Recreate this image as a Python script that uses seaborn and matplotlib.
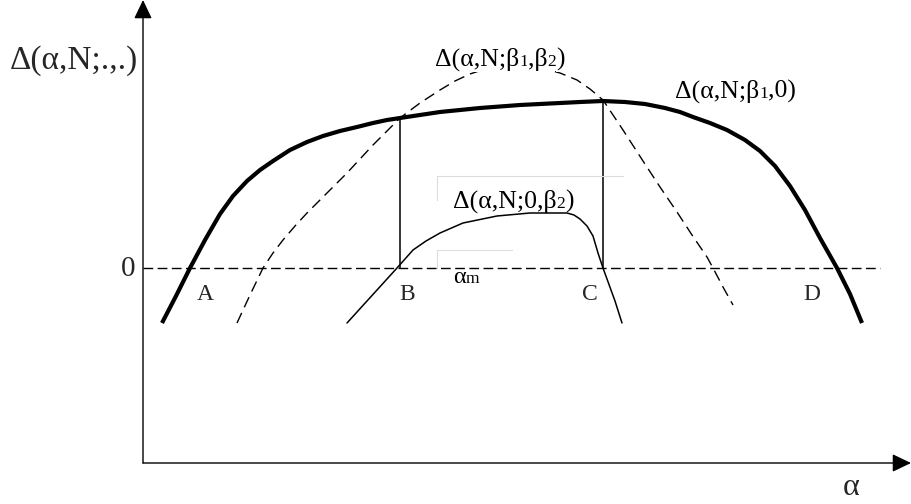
import matplotlib
matplotlib.use("Agg")
import matplotlib.pyplot as plt
import matplotlib.transforms as mtransforms
import seaborn as sns
import pandas as pd

# Schematic curves: alpha (horizontal) vs Delta(alpha, N; ., .) (vertical)
alpha_b1_0 = [19, 33, 47, 62, 77, 90, 104, 117, 130, 147, 164, 180, 197, 214,
              230, 244, 257, 277, 297, 317, 337, 377, 417, 437, 460, 482,
              502, 522, 537, 550, 567, 584, 602, 617, 632, 647, 662, 677,
              694, 707, 719]
delta_b1_0 = [-55, -28, 0, 28, 54, 72, 87, 98, 107, 118, 126, 132, 137, 141,
              145, 148, 150, 153, 156, 158, 160, 163, 165, 166, 167, 166,
              164, 160, 156, 151, 145, 138, 128, 117, 102, 82, 58, 30,
              0, -26, -55]

alpha_b1_b2 = [94, 107, 120, 130, 140, 152, 164, 184, 204, 217, 230, 244,
               257, 277, 297, 312, 327, 342, 357, 372, 387, 402, 417, 434,
               447, 460, 480, 500, 517, 534, 549, 564, 570, 580, 590]
delta_b1_b2 = [-55, -27, 0, 15, 28, 42, 55, 75, 95, 109, 123, 137,
               150, 165, 178, 187, 194, 199, 202, 203, 202, 199, 195, 188,
               179, 168, 138, 107, 81, 56, 33, 11, 0, -19, -37]

alpha_0_b2 = [204, 254, 270, 283, 297, 320, 354, 387, 424, 431, 437, 444,
              450, 455, 460, 472, 479]
delta_0_b2 = [-55, 0, 18, 27, 35, 45, 52, 55, 55, 53, 49, 42,
              32, 15, 0, -33, -55]

# Roots B and C of the Delta(.;0,b2) curve and the matching heights on the thick curve
alpha_roots = [257, 460]
delta_roots_top = [150, 167]

point_labels = ["A", "B", "C", "D"]
point_alpha = [62, 264, 447, 669]

SERIF = ["Liberation Serif", "DejaVu Serif"]

sns.set_theme(style="white")
plt.rcParams["font.family"] = SERIF

fig = plt.figure(figsize=(9.11, 5.04), dpi=100)
ax = fig.add_axes([0, 0, 1, 1])
ax.set_xlim(-143, 768)
ax.set_ylim(-236, 268)
ax.axis("off")

curves = pd.concat([
    pd.DataFrame({"alpha": alpha_b1_0, "delta": delta_b1_0, "curve": "b1_0"}),
    pd.DataFrame({"alpha": alpha_b1_b2, "delta": delta_b1_b2, "curve": "b1_b2"}),
    pd.DataFrame({"alpha": alpha_0_b2, "delta": delta_0_b2, "curve": "0_b2"}),
])

sns.lineplot(data=curves[curves.curve == "b1_0"], x="alpha", y="delta",
             sort=False, estimator=None, color="black", lw=3.0, ax=ax,
             solid_capstyle="butt", solid_joinstyle="round")
sns.lineplot(data=curves[curves.curve == "b1_b2"], x="alpha", y="delta",
             sort=False, estimator=None, color="black", lw=1.0, ax=ax,
             linestyle=(0, (8, 4.5)))
sns.lineplot(data=curves[curves.curve == "0_b2"], x="alpha", y="delta",
             sort=False, estimator=None, color="black", lw=1.1, ax=ax,
             solid_joinstyle="round")

# zero level
ax.hlines(0, 0, 737, colors="black", lw=1.0, linestyles=[(0, (7, 3.2))])

# vertical segments at B and C
ax.vlines(alpha_roots, 0, delta_roots_top, colors="black", lw=1.1)

# faint text-frame edges
ax.plot([294, 480], [92, 92], color="#dcdcdc", lw=0.8)
ax.plot([294, 294], [92, 68], color="#dcdcdc", lw=0.8)
ax.plot([294, 369], [18, 18], color="#dcdcdc", lw=0.8)
ax.plot([294, 294], [18, 0], color="#dcdcdc", lw=0.8)

# axes with arrow heads
arrow = dict(arrowstyle="-|>,head_length=1.15,head_width=0.55",
             mutation_scale=10, lw=1.0, color="black", shrinkA=0, shrinkB=0)
ax.annotate("", xy=(0, 268), xytext=(0, -195), arrowprops=arrow)
ax.annotate("", xy=(768, -195), xytext=(0, -195), arrowprops=arrow)


def rich_text(x, y, parts, bg=None):
    """Place a run of text pieces of varying size side by side on one baseline."""
    renderer = fig.canvas.get_renderer()
    off = 0.0
    for s, size in parts:
        kw = {}
        if bg:
            kw["bbox"] = dict(facecolor=bg, edgecolor="none", pad=0.5)
        t = ax.text(x, y, s, fontsize=size, family=SERIF, va="baseline",
                    ha="left", color="black", **kw)
        t.set_transform(mtransforms.offset_copy(ax.transData, fig=fig,
                                                x=off, y=0, units="dots"))
        off += t.get_window_extent(renderer).width


MAIN = 18.5
SUB = 12.5

ax.text(-5, 199, "Δ(α,N;.,.)", fontsize=24, ha="right", va="baseline")
ax.text(-15, -8, "0", fontsize=21, ha="center", va="baseline")
rich_text(292, 202, [("Δ(α,N;β", MAIN), ("1", SUB), (",β", MAIN), ("2", SUB),
                     (")", MAIN)], bg="white")
rich_text(532, 170, [("Δ(α,N;β", MAIN), ("1", SUB), (",0)", MAIN)])
rich_text(310, 60, [("Δ(α,N;0,β", MAIN), ("2", SUB), (")", MAIN)])
rich_text(310, -15, [("α", 17.5), ("m", 12.5)])
ax.text(708, -227, "α", fontsize=23, ha="center", va="baseline")

for lab, a in zip(point_labels, point_alpha):
    ax.text(a, -32, lab, fontsize=17, ha="center", va="baseline")

fig.savefig("out.png", dpi=100, facecolor="white")
